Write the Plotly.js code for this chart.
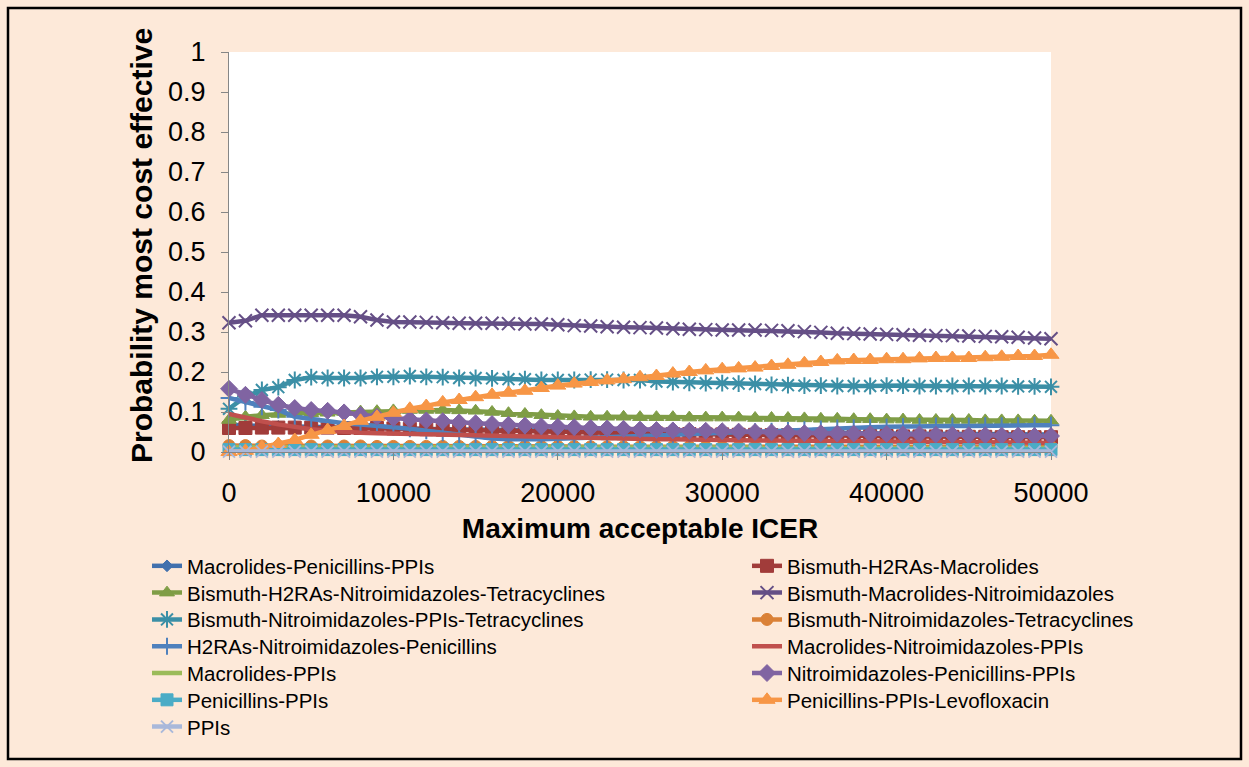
<!DOCTYPE html>
<html>
<head>
<meta charset="utf-8">
<script src="https://cdn.plot.ly/plotly-3.0.1.min.js"></script>
<style>
  html, body { margin: 0; padding: 0; background: #FDE9D9; }
  #chart { width: 1249px; height: 767px; }
</style>
</head>
<body>
<div id="chart"></div>
<script>
// ---- Data ----
var icer = [0,1000,2000,3000,4000,5000,6000,7000,8000,9000,10000,11000,12000,13000,14000,15000,16000,17000,18000,19000,20000,21000,22000,23000,24000,25000,26000,27000,28000,29000,30000,31000,32000,33000,34000,35000,36000,37000,38000,39000,40000,41000,42000,43000,44000,45000,46000,47000,48000,49000,50000];

var macrolidesPenicillinsPPIs = [0.068,0.066,0.065,0.064,0.064,0.063,0.062,0.062,0.061,0.060,0.059,0.058,0.058,0.057,0.056,0.056,0.055,0.055,0.054,0.054,0.053,0.053,0.052,0.052,0.051,0.051,0.051,0.050,0.050,0.050,0.049,0.049,0.049,0.048,0.048,0.048,0.047,0.047,0.047,0.047,0.046,0.046,0.046,0.046,0.045,0.045,0.045,0.045,0.045,0.044,0.044];
var bismuthH2RAsMacrolides = [0.060,0.060,0.061,0.061,0.061,0.061,0.061,0.060,0.060,0.060,0.059,0.058,0.057,0.056,0.055,0.054,0.053,0.052,0.051,0.050,0.049,0.048,0.048,0.047,0.047,0.046,0.046,0.045,0.045,0.044,0.044,0.043,0.043,0.042,0.042,0.041,0.041,0.041,0.040,0.040,0.040,0.039,0.039,0.039,0.038,0.038,0.038,0.037,0.037,0.037,0.037];
var bismuthH2RAsNitroTetra = [0.080,0.088,0.092,0.095,0.097,0.097,0.098,0.100,0.101,0.102,0.104,0.105,0.105,0.105,0.104,0.103,0.100,0.097,0.095,0.092,0.090,0.089,0.088,0.088,0.088,0.087,0.087,0.087,0.086,0.086,0.086,0.086,0.085,0.085,0.085,0.084,0.083,0.083,0.082,0.082,0.081,0.081,0.080,0.080,0.080,0.080,0.079,0.079,0.079,0.078,0.078];
var bismuthMacrolidesNitro = [0.323,0.328,0.342,0.342,0.342,0.342,0.342,0.342,0.338,0.330,0.325,0.325,0.324,0.323,0.322,0.322,0.322,0.321,0.320,0.320,0.318,0.316,0.315,0.313,0.312,0.311,0.310,0.308,0.307,0.306,0.305,0.305,0.305,0.304,0.303,0.301,0.299,0.297,0.296,0.295,0.294,0.293,0.292,0.291,0.291,0.290,0.289,0.288,0.287,0.285,0.283];
var bismuthNitroPPIsTetra = [0.108,0.138,0.155,0.162,0.180,0.187,0.185,0.185,0.185,0.188,0.188,0.190,0.188,0.187,0.185,0.185,0.184,0.182,0.182,0.180,0.180,0.180,0.181,0.181,0.180,0.180,0.176,0.175,0.173,0.172,0.172,0.171,0.170,0.168,0.167,0.166,0.166,0.165,0.165,0.165,0.166,0.166,0.165,0.165,0.165,0.165,0.165,0.165,0.164,0.164,0.163];
var bismuthNitroTetra = [0.016,0.016,0.015,0.015,0.015,0.015,0.015,0.015,0.015,0.014,0.014,0.014,0.014,0.014,0.014,0.014,0.014,0.014,0.014,0.014,0.014,0.014,0.013,0.013,0.013,0.013,0.013,0.013,0.013,0.013,0.013,0.013,0.013,0.013,0.013,0.013,0.013,0.013,0.013,0.013,0.013,0.013,0.013,0.013,0.013,0.013,0.013,0.013,0.013,0.013,0.013];
var h2rasNitroPenicillins = [0.135,0.125,0.113,0.105,0.088,0.083,0.076,0.072,0.069,0.066,0.062,0.058,0.053,0.048,0.043,0.038,0.034,0.032,0.031,0.032,0.033,0.034,0.036,0.037,0.038,0.040,0.041,0.043,0.045,0.047,0.048,0.049,0.051,0.052,0.054,0.056,0.058,0.060,0.061,0.062,0.063,0.064,0.064,0.065,0.065,0.065,0.066,0.066,0.066,0.067,0.067];
var macrolidesNitroPPIs = [0.095,0.085,0.077,0.069,0.062,0.057,0.053,0.050,0.048,0.047,0.046,0.045,0.044,0.043,0.042,0.041,0.040,0.039,0.038,0.037,0.036,0.035,0.034,0.034,0.033,0.033,0.032,0.032,0.031,0.031,0.030,0.030,0.029,0.029,0.029,0.028,0.028,0.027,0.027,0.027,0.026,0.026,0.026,0.025,0.025,0.025,0.024,0.024,0.024,0.023,0.023];
var macrolidesPPIs = [0.012,0.012,0.012,0.012,0.011,0.011,0.011,0.011,0.011,0.011,0.011,0.011,0.011,0.011,0.011,0.011,0.011,0.011,0.011,0.011,0.011,0.011,0.011,0.011,0.011,0.011,0.011,0.011,0.011,0.011,0.011,0.011,0.011,0.011,0.011,0.011,0.011,0.011,0.011,0.011,0.011,0.011,0.011,0.011,0.011,0.011,0.011,0.011,0.011,0.011,0.011];
var nitroPenicillinsPPIs = [0.158,0.143,0.130,0.118,0.110,0.105,0.103,0.099,0.093,0.088,0.085,0.082,0.079,0.077,0.074,0.072,0.070,0.068,0.066,0.064,0.063,0.062,0.060,0.059,0.058,0.056,0.055,0.054,0.053,0.053,0.052,0.051,0.050,0.049,0.048,0.047,0.047,0.046,0.046,0.045,0.045,0.044,0.044,0.043,0.043,0.042,0.042,0.041,0.041,0.040,0.040];
var penicillinsPPIs = [0.006,0.006,0.006,0.006,0.006,0.006,0.006,0.006,0.006,0.006,0.006,0.006,0.006,0.006,0.006,0.006,0.006,0.006,0.006,0.006,0.006,0.006,0.006,0.006,0.006,0.006,0.006,0.006,0.006,0.006,0.006,0.006,0.006,0.006,0.006,0.006,0.006,0.006,0.006,0.006,0.006,0.006,0.006,0.006,0.006,0.006,0.006,0.006,0.006,0.006,0.006];
var penicillinsPPIsLevo = [0.000,0.003,0.012,0.020,0.030,0.043,0.055,0.065,0.078,0.088,0.098,0.108,0.115,0.124,0.130,0.137,0.143,0.148,0.153,0.160,0.166,0.171,0.175,0.179,0.182,0.187,0.190,0.196,0.200,0.204,0.207,0.209,0.211,0.215,0.218,0.222,0.225,0.229,0.230,0.230,0.232,0.232,0.234,0.235,0.235,0.235,0.237,0.238,0.240,0.240,0.243];
var ppis = [0.001,0.001,0.001,0.001,0.001,0.001,0.001,0.001,0.001,0.001,0.001,0.001,0.001,0.001,0.001,0.001,0.001,0.001,0.001,0.001,0.001,0.001,0.001,0.001,0.001,0.001,0.001,0.001,0.001,0.001,0.001,0.001,0.001,0.001,0.001,0.001,0.001,0.001,0.001,0.001,0.001,0.001,0.001,0.001,0.001,0.001,0.001,0.001,0.001,0.001,0.001];

var seriesNames = [
  "Macrolides-Penicillins-PPIs",
  "Bismuth-H2RAs-Macrolides",
  "Bismuth-H2RAs-Nitroimidazoles-Tetracyclines",
  "Bismuth-Macrolides-Nitroimidazoles",
  "Bismuth-Nitroimidazoles-PPIs-Tetracyclines",
  "Bismuth-Nitroimidazoles-Tetracyclines",
  "H2RAs-Nitroimidazoles-Penicillins",
  "Macrolides-Nitroimidazoles-PPIs",
  "Macrolides-PPIs",
  "Nitroimidazoles-Penicillins-PPIs",
  "Penicillins-PPIs",
  "Penicillins-PPIs-Levofloxacin",
  "PPIs"
];
var seriesValues = [macrolidesPenicillinsPPIs, bismuthH2RAsMacrolides, bismuthH2RAsNitroTetra,
  bismuthMacrolidesNitro, bismuthNitroPPIsTetra, bismuthNitroTetra, h2rasNitroPenicillins,
  macrolidesNitroPPIs, macrolidesPPIs, nitroPenicillinsPPIs, penicillinsPPIs, penicillinsPPIsLevo, ppis];

var xTitle = "Maximum acceptable ICER";
var yTitle = "Probability most cost effective";

// ---- Styles ----
var styles = [
  {color: "#4170AD", symbol: "diamond", size: 9},
  {color: "#A13C3A", symbol: "square", size: 13},
  {color: "#7F9D46", symbol: "triangle-up", size: 13},
  {color: "#654F86", symbol: "x-thin-open", size: 13, lw: 2},
  {color: "#3B8FA6", symbol: "asterisk-open", size: 14, lw: 2},
  {color: "#DA8137", symbol: "circle", size: 12},
  {color: "#4F81BD", symbol: "cross-thin-open", size: 12, lw: 2},
  {color: "#C0504D", symbol: null},
  {color: "#9BBB59", symbol: null},
  {color: "#8064A2", symbol: "diamond", size: 13},
  {color: "#4BACC6", symbol: "square", size: 12},
  {color: "#F79646", symbol: "triangle-up", size: 14},
  {color: "#A9B8DA", symbol: "x-thin-open", size: 12, lw: 2}
];

var FONT = 'Arial, "Liberation Sans", sans-serif';
var traces = [];
var layoutLegends = {};
for (var i = 0; i < seriesNames.length; i++) {
  var s = styles[i];
  var legendId = i === 0 ? "legend" : "legend" + (i + 1);
  var t = {
    type: "scatter",
    x: icer,
    y: seriesValues[i],
    name: seriesNames[i],
    legend: legendId,
    line: {color: s.color, width: 4.5},
    cliponaxis: false
  };
  if (s.symbol) {
    t.mode = "lines+markers";
    t.marker = {symbol: s.symbol, size: s.size, color: s.color,
                line: {color: s.color, width: s.lw || 1}};
  } else {
    t.mode = "lines";
  }
  traces.push(t);
  var col = i % 2, row = Math.floor(i / 2);
  var px = col === 0 ? 147 : 747;
  var py = 566 + 26.8 * row;
  layoutLegends[legendId] = {
    xref: "container", yref: "container",
    x: px / 1249, y: 1 - py / 767,
    xanchor: "left", yanchor: "middle",
    bgcolor: "rgba(0,0,0,0)", borderwidth: 0,
    font: {family: FONT, size: 20.5, color: "#000"},
    itemwidth: 30
  };
}

var layout = {
  width: 1249, height: 767,
  paper_bgcolor: "#FDE9D9",
  plot_bgcolor: "#FFFFFF",
  margin: {l: 229, r: 198, t: 52, b: 315, pad: 0, autoexpand: false},
  font: {family: FONT, color: "#000"},
  showlegend: true,
  xaxis: {
    range: [0, 50000], dtick: 10000, tick0: 0, tickformat: "d",
    ticks: "outside", ticklen: 7, tickcolor: "#868686", tickwidth: 1,
    showline: true, linecolor: "#868686", linewidth: 1,
    showgrid: false, zeroline: false, automargin: false, tickangle: 0,
    tickfont: {family: FONT, size: 27, color: "#000"},
    ticklabelstandoff: 10,
    title: {text: xTitle, standoff: 10,
            font: {family: FONT, size: 28, color: "#000", weight: "bold"}}
  },
  yaxis: {
    range: [0, 1], dtick: 0.1, tick0: 0,
    ticks: "outside", ticklen: 7, tickcolor: "#868686", tickwidth: 1,
    showline: true, linecolor: "#868686", linewidth: 1,
    showgrid: false, zeroline: false, automargin: false,
    tickfont: {family: FONT, size: 27, color: "#000"},
    ticklabelstandoff: 10
  },
  annotations: [{
    text: yTitle, textangle: -90, showarrow: false,
    xref: "paper", yref: "paper",
    x: (141 - 229) / 822, y: (452 - 246) / 400,
    xanchor: "center", yanchor: "middle",
    font: {family: FONT, size: 30, color: "#000", weight: "bold"}
  }],
  shapes: [{
    type: "rect", xref: "paper", yref: "paper",
    x0: (8 - 229) / 822, x1: (1241 - 229) / 822,
    y0: (452 - 759) / 400, y1: (452 - 8) / 400,
    line: {color: "#000", width: 2.5}, fillcolor: "rgba(0,0,0,0)", layer: "below"
  }]
};
for (var k in layoutLegends) layout[k] = layoutLegends[k];

Plotly.newPlot("chart", traces, layout, {staticPlot: true, displayModeBar: false});
</script>
</body>
</html>
